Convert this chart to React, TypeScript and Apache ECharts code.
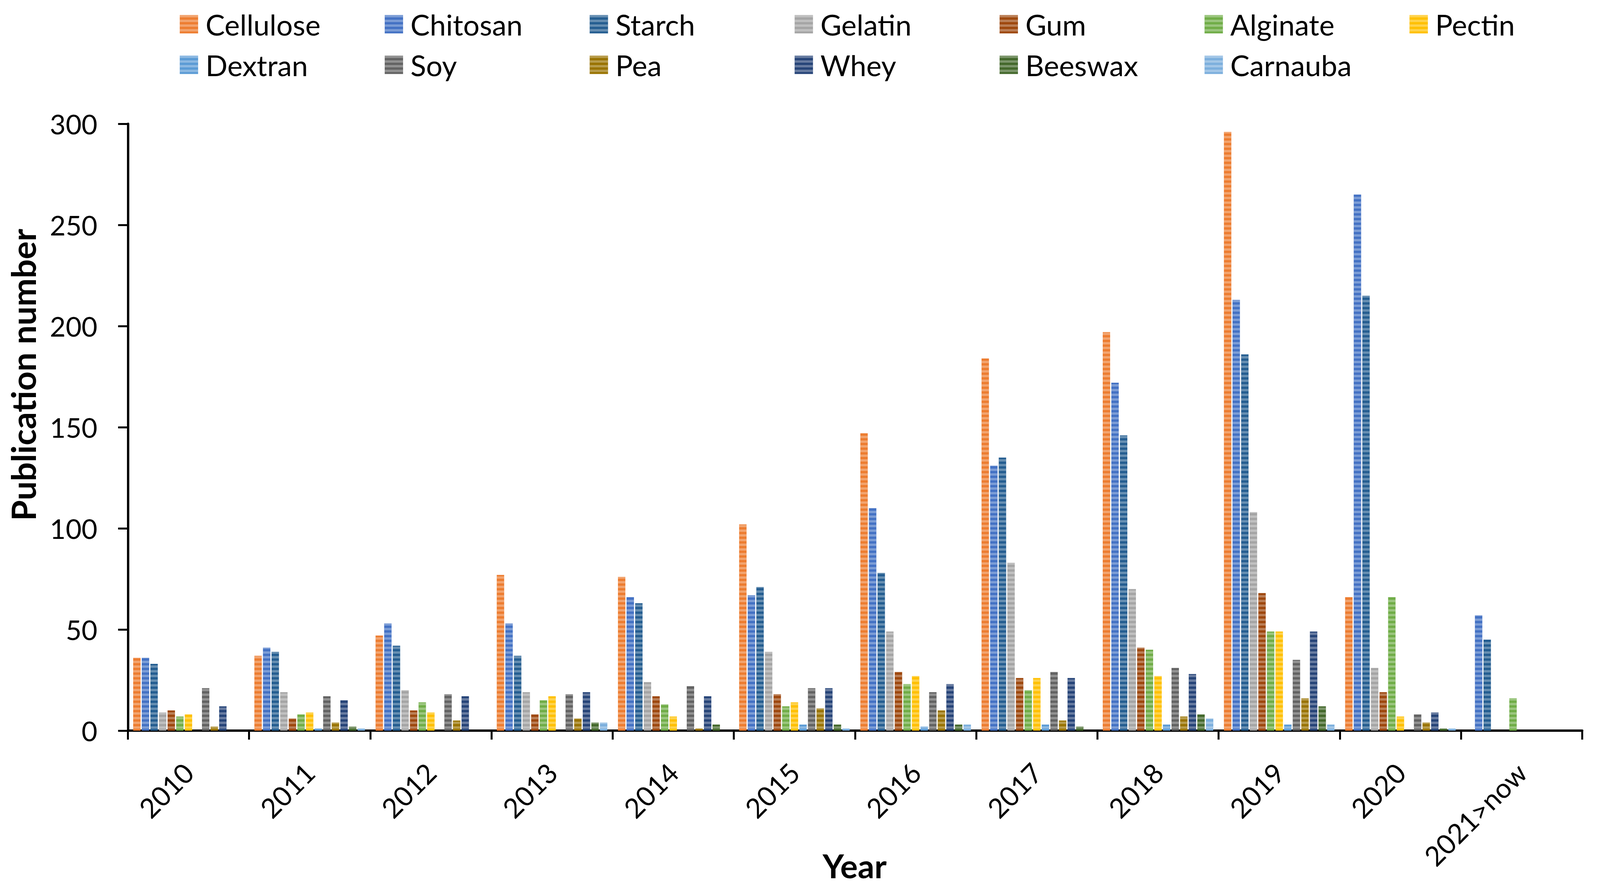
import React, { useEffect, useRef } from 'react';
import * as echarts from 'echarts';

const categories = ['2010', '2011', '2012', '2013', '2014', '2015', '2016', '2017', '2018', '2019', '2020', '2021>now'];

const cellulose = [36, 37, 47, 77, 76, 102, 147, 184, 197, 296, 66, 0];
const chitosan = [36, 41, 53, 53, 66, 67, 110, 131, 172, 213, 265, 57];
const starch = [33, 39, 42, 37, 63, 71, 78, 135, 146, 186, 215, 45];
const gelatin = [9, 19, 20, 19, 24, 39, 49, 83, 70, 108, 31, 0];
const gum = [10, 6, 10, 8, 17, 18, 29, 26, 41, 68, 19, 0];
const alginate = [7, 8, 14, 15, 13, 12, 23, 20, 40, 49, 66, 16];
const pectin = [8, 9, 9, 17, 7, 14, 27, 26, 27, 49, 7, 0];
const dextran = [0, 1, 0, 0, 0, 3, 2, 3, 3, 3, 0, 0];
const soy = [21, 17, 18, 18, 22, 21, 19, 29, 31, 35, 8, 0];
const pea = [2, 4, 5, 6, 1, 11, 10, 5, 7, 16, 4, 0];
const whey = [12, 15, 17, 19, 17, 21, 23, 26, 28, 49, 9, 0];
const beeswax = [0, 2, 0, 4, 3, 3, 3, 2, 8, 12, 1, 0];
const carnauba = [0, 1, 0, 4, 0, 1, 3, 0, 6, 3, 1, 0];

const seriesNames = ['Cellulose', 'Chitosan', 'Starch', 'Gelatin', 'Gum', 'Alginate', 'Pectin', 'Dextran', 'Soy', 'Pea', 'Whey', 'Beeswax', 'Carnauba'];
const seriesValues = [cellulose, chitosan, starch, gelatin, gum, alginate, pectin, dextran, soy, pea, whey, beeswax, carnauba];
const seriesColors = ['#ED7D31', '#4472C4', '#255E91', '#A5A5A5', '#9E480E', '#70AD47', '#FFC000', '#5B9BD5', '#636363', '#997300', '#264478', '#43682B', '#7CAFDD'];

const yTicks = { min: 0, max: 300, interval: 50 };

export default function App() {
  const ref = useRef<HTMLDivElement>(null);
  useEffect(() => {
    if (!ref.current) return;
    const chart = echarts.init(ref.current, null, { renderer: 'svg' });
    const W = chart.getWidth();
    const H = chart.getHeight();
    const sx = W / 4317;
    const sy = H / 2274;
    const decal = {
      symbol: 'rect',
      symbolSize: 1,
      dashArrayX: [1, 0],
      dashArrayY: [6, 6],
      rotation: 0,
      color: 'rgba(255,255,255,0.3)',
    };
    const legends = seriesNames.map((name, i) => ({
      data: [name],
      left: (485 + (i % 7) * 553) * sx,
      top: (i < 7 ? 25 : 129) * sy,
      padding: 0,
      itemWidth: 47,
      itemHeight: 47,
      itemGap: 0,
      icon: 'rect',
      selectedMode: false,
      textStyle: { fontFamily: 'Lato', fontSize: 74, color: '#000', lineHeight: 74, padding: [0, 0, 0, 14] },
    }));
    const font = { fontFamily: 'Lato', fontSize: 70, color: '#000' };
    chart.setOption({
      animation: false,
      backgroundColor: '#fff',
      legend: legends,
      grid: { left: 345 * sx, right: 48 * sx, top: 317 * sy, bottom: 403 * sy, containLabel: false },
      xAxis: {
        type: 'category',
        data: categories,
        axisLine: { show: true, lineStyle: { color: '#000', width: 6 } },
        axisTick: { show: true, length: 23, lineStyle: { color: '#000', width: 5 } },
        axisLabel: { ...font, rotate: 45, margin: 95, interval: 0 },
        splitLine: { show: false },
      },
      yAxis: {
        type: 'value',
        min: yTicks.min,
        max: yTicks.max,
        interval: yTicks.interval,
        axisLine: { show: true, lineStyle: { color: '#000', width: 6 } },
        axisTick: { show: true, length: 25, lineStyle: { color: '#000', width: 5 } },
        axisLabel: { ...font, margin: 78 },
        splitLine: { show: false },
      },
      graphic: [
        {
          type: 'text',
          x: 62 * sx,
          y: 960 * sy,
          rotation: Math.PI / 2,
          style: { text: 'Publication number', fontFamily: 'Lato', fontWeight: 'bold', fontSize: 86, fill: '#000', align: 'center', verticalAlign: 'middle' },
        },
        {
          type: 'text',
          x: 2306 * sx,
          y: 2216 * sy,
          style: { text: 'Year', fontFamily: 'Lato', fontWeight: 'bold', fontSize: 84, fill: '#000', align: 'center', verticalAlign: 'middle' },
        },
      ],
      series: seriesNames.map((name, i) => ({
        type: 'bar',
        name,
        data: seriesValues[i],
        barWidth: 20 * sx,
        barGap: '16%',
        itemStyle: { color: seriesColors[i], decal },
        emphasis: { disabled: true },
      })),
    });
    return () => chart.dispose();
  }, []);
  return <div ref={ref} style={{ position: 'fixed', left: 0, top: 0, width: '100vw', height: '100vh', background: '#fff' }} />;
}
